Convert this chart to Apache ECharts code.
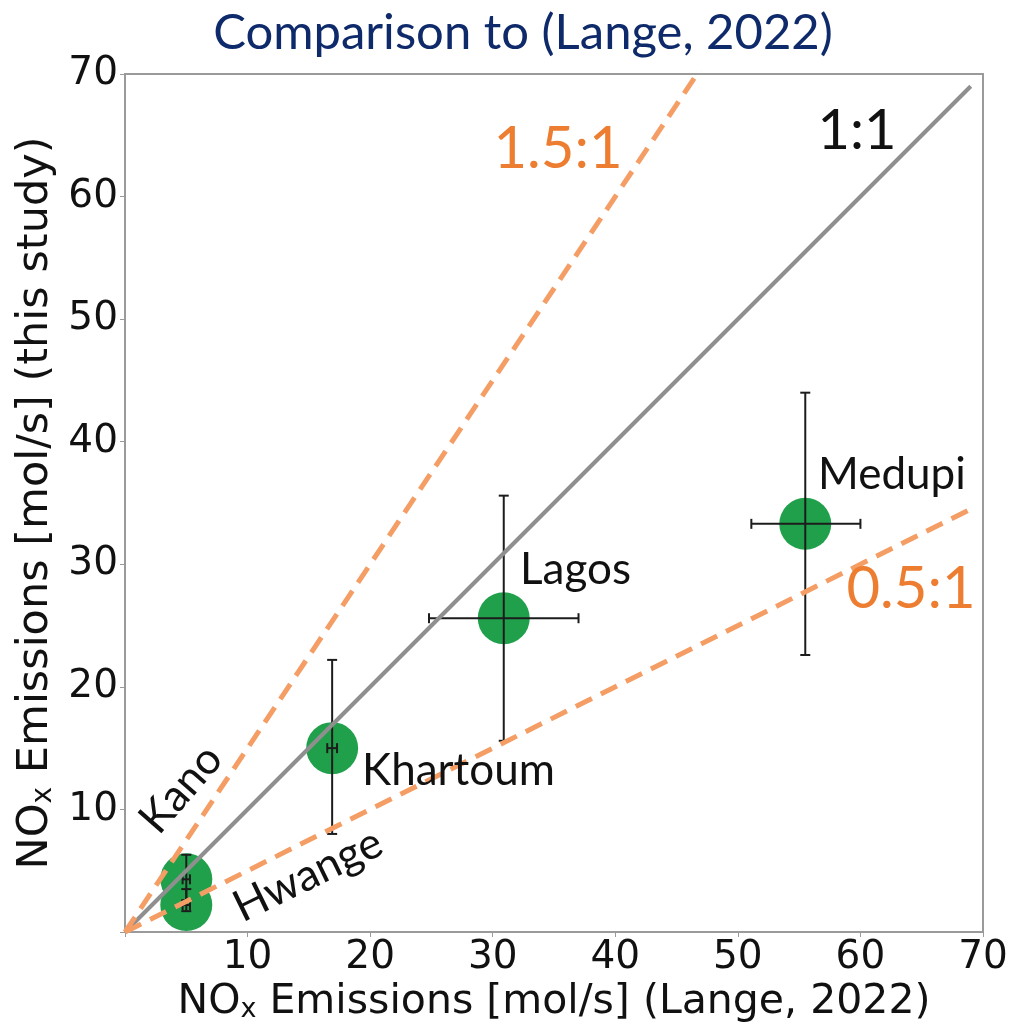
<!DOCTYPE html>
<html>
<head>
<meta charset="utf-8">
<script src="https://cdn.jsdelivr.net/npm/echarts@6/dist/echarts.min.js"></script>
<style>
  html, body { margin: 0; padding: 0; background: #ffffff; }
  #chart { width: 1015px; height: 1028px; }
</style>
</head>
<body>
<div id="chart"></div>
<script>
// Sites and their NOx emission estimates [mol/s]
const sites = ['Kano', 'Hwange', 'Khartoum', 'Lagos', 'Medupi'];
const langeX = [5.0, 5.0, 16.9, 30.9, 55.5];        // Lange, 2022
const thisStudyY = [4.3, 2.2, 15.0, 25.6, 33.3];    // this study
const xLow = [4.7, 4.7, 16.5, 24.8, 51.1];
const xHigh = [5.3, 5.3, 17.3, 37.0, 60.0];
const yLow = [2.6, 1.7, 8.0, 15.6, 22.6];
const yHigh = [6.3, 3.5, 22.2, 35.6, 44.0];

// Reference ratio lines (end points)
const line1to1 = [[0, 0], [69, 69]];
const line15to1 = [[0, 0], [69, 103.5]];
const line05to1 = [[0, 0], [69, 34.5]];

// Axis ticks
const axisMin = 0, axisMax = 70, axisStep = 10;

const GREEN = '#21A04C';
const ORANGE_LINE = '#F49E66';
const ORANGE_TEXT = '#ED7D31';
const LABEL_FONT = 'Lato, "Open Sans", sans-serif';
const AXIS_FONT = '"DejaVu Sans", sans-serif';
const NAME_FONT = '"DejaVu Sans", sans-serif';

const pointData = sites.map((s, i) => ({ name: s, value: [langeX[i], thisStudyY[i]] }));
const errData = sites.map((s, i) => [langeX[i], thisStudyY[i], xLow[i], xHigh[i], yLow[i], yHigh[i]]);

function renderErr(params, api) {
  const x = api.value(0), y = api.value(1);
  const c = api.coord([x, y]);
  const l = api.coord([api.value(2), y]);
  const r = api.coord([api.value(3), y]);
  const b = api.coord([x, api.value(4)]);
  const t = api.coord([x, api.value(5)]);
  const cap = 5;
  const style = { stroke: '#1c1c1c', lineWidth: 2 };
  const seg = (x1, y1, x2, y2) => ({ type: 'line', shape: { x1, y1, x2, y2 }, style });
  return {
    type: 'group',
    children: [
      seg(l[0], c[1], r[0], c[1]),
      seg(l[0], c[1] - cap, l[0], c[1] + cap),
      seg(r[0], c[1] - cap, r[0], c[1] + cap),
      seg(c[0], b[1], c[0], t[1]),
      seg(c[0] - cap, b[1], c[0] + cap, b[1]),
      seg(c[0] - cap, t[1], c[0] + cap, t[1])
    ]
  };
}

const axisCommon = {
  type: 'value',
  min: axisMin,
  max: axisMax,
  interval: axisStep,
  splitLine: { show: false },
  axisLine: { show: true, lineStyle: { color: '#9a9a9a', width: 2 } },
  axisTick: { show: true, length: 5, lineStyle: { color: '#9a9a9a', width: 1 } },
  nameLocation: 'middle'
};

const subRichX = {
  sub: { fontFamily: NAME_FONT, fontSize: 27, color: '#111', verticalAlign: 'bottom', padding: [14, 0, 0, 0] }
};
const subRichY = {
  sub: { fontFamily: NAME_FONT, fontSize: 28, color: '#111', verticalAlign: 'bottom', padding: [15, 0, 0, 0] }
};

const option = {
  animation: false,
  backgroundColor: '#ffffff',
  grid: {
    left: 125, right: 32, top: 74, bottom: 95,
    show: true, borderColor: '#9a9a9a', borderWidth: 2
  },
  xAxis: Object.assign({}, axisCommon, {
    name: 'NO{sub|x} Emissions [mol/s] (Lange, 2022)',
    nameGap: 50,
    nameTextStyle: { fontFamily: NAME_FONT, fontSize: 41, color: '#111', rich: subRichX },
    axisLabel: {
      margin: 6, fontFamily: AXIS_FONT, fontSize: 39, color: '#111',
      formatter: v => (v === 0 ? '' : String(v))
    }
  }),
  yAxis: Object.assign({}, axisCommon, {
    name: 'NO{sub|x} Emissions [mol/s] (this study)',
    nameGap: 66,
    nameTextStyle: { fontFamily: NAME_FONT, fontSize: 43, color: '#111', rich: subRichY },
    axisLabel: {
      margin: 7, fontFamily: AXIS_FONT, fontSize: 39, color: '#111',
      formatter: v => (v === 0 ? '' : String(v))
    }
  }),
  series: [
    {
      type: 'scatter',
      data: pointData,
      symbol: 'circle',
      symbolSize: 52,
      itemStyle: { color: GREEN, opacity: 1 },
      z: 2
    },
    {
      type: 'custom',
      data: errData,
      renderItem: renderErr,
      encode: { x: [0, 2, 3], y: [1, 4, 5] },
      z: 3
    },
    {
      type: 'line', data: line1to1, symbol: 'none', clip: true,
      lineStyle: { color: '#8f8f8f', width: 4 }, z: 4
    },
    {
      type: 'line', data: line15to1, symbol: 'none', clip: true,
      lineStyle: { color: ORANGE_LINE, width: 5, type: [18, 10] }, z: 4
    },
    {
      type: 'line', data: line05to1, symbol: 'none', clip: true,
      lineStyle: { color: ORANGE_LINE, width: 5, type: [18, 10] }, z: 4
    }
  ],
  graphic: [
    { type: 'text', x: 523, y: 33, style: { text: 'Comparison to (Lange, 2022)', fill: '#0E2A6B', font: '49px ' + LABEL_FONT, textAlign: 'center', textVerticalAlign: 'middle' } },
    { type: 'text', x: 857, y: 131, z: 10, style: { text: '1:1', fill: '#111', font: '56px ' + LABEL_FONT, textAlign: 'center', textVerticalAlign: 'middle' } },
    { type: 'text', x: 558, y: 149, z: 10, style: { text: '1.5:1', fill: ORANGE_TEXT, font: '58px ' + LABEL_FONT, textAlign: 'center', textVerticalAlign: 'middle' } },
    { type: 'text', x: 911, y: 589, z: 10, style: { text: '0.5:1', fill: ORANGE_TEXT, font: '58px ' + LABEL_FONT, textAlign: 'center', textVerticalAlign: 'middle' } },
    { type: 'text', x: 818, y: 475, z: 10, style: { text: 'Medupi', fill: '#111', font: '44px ' + LABEL_FONT, textAlign: 'left', textVerticalAlign: 'middle' } },
    { type: 'text', x: 520, y: 570, z: 10, style: { text: 'Lagos', fill: '#111', font: '44px ' + LABEL_FONT, textAlign: 'left', textVerticalAlign: 'middle' } },
    { type: 'text', x: 362, y: 771, z: 10, style: { text: 'Khartoum', fill: '#111', font: '44px ' + LABEL_FONT, textAlign: 'left', textVerticalAlign: 'middle' } },
    { type: 'text', x: 181, y: 789, z: 10, rotation: 49 * Math.PI / 180, style: { text: 'Kano', fill: '#111', font: '44px ' + LABEL_FONT, textAlign: 'center', textVerticalAlign: 'middle' } },
    { type: 'text', x: 308, y: 875, z: 10, rotation: 26 * Math.PI / 180, style: { text: 'Hwange', fill: '#111', font: '44px ' + LABEL_FONT, textAlign: 'center', textVerticalAlign: 'middle' } }
  ]
};

const chart = echarts.init(document.getElementById('chart'), null, { renderer: 'canvas' });
chart.setOption(option);
</script>
</body>
</html>
